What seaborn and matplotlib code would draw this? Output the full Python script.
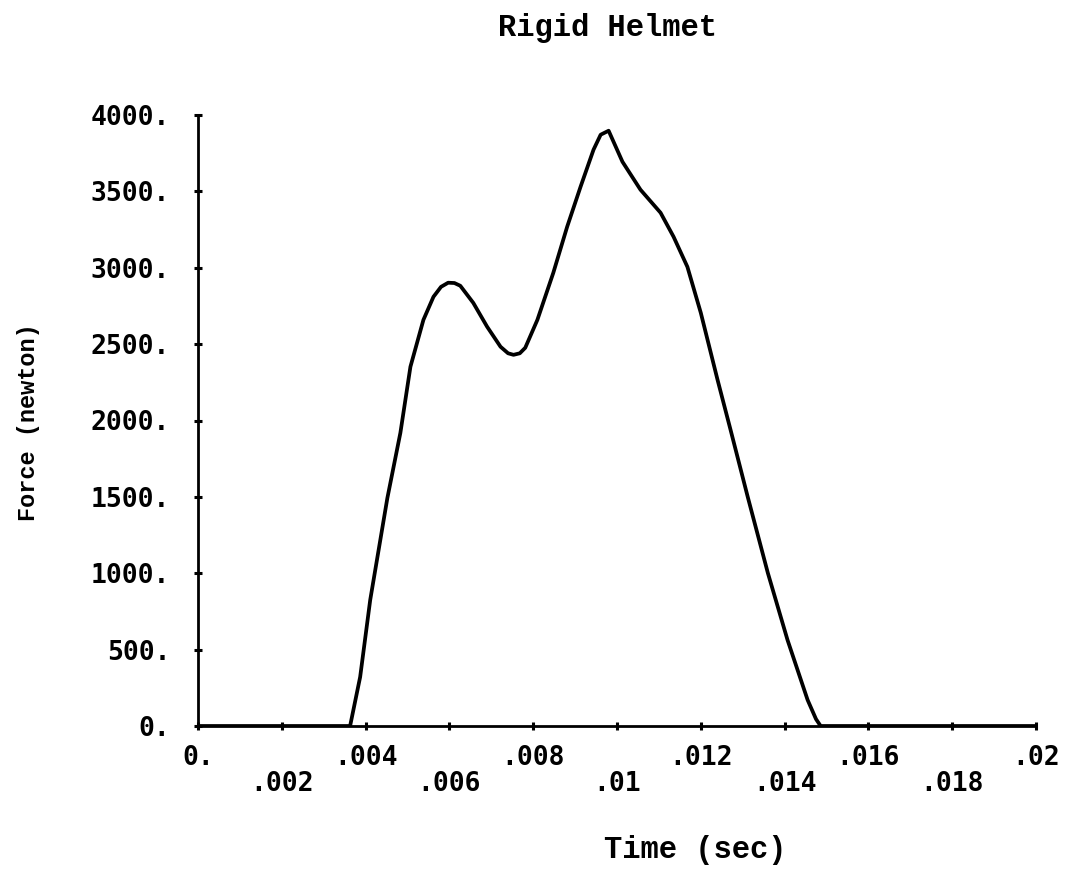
import matplotlib
matplotlib.use("Agg")
import matplotlib.pyplot as plt
import seaborn as sns
import pandas as pd

# Impact force history for the rigid helmet
time_s = [0.0, 0.00363, 0.00387, 0.00411, 0.00452, 0.00483, 0.00507, 0.00538,
          0.00562, 0.00580, 0.00597, 0.00612, 0.00626, 0.00657, 0.00690, 0.00722,
          0.00740, 0.00753, 0.00768, 0.00781, 0.00810, 0.00848, 0.00881, 0.00913,
          0.00944, 0.00961, 0.00980, 0.01013, 0.01056, 0.01104, 0.01135, 0.01168,
          0.01200, 0.01240, 0.01271, 0.01312, 0.01360, 0.01407, 0.01455, 0.01475,
          0.01486, 0.02]
force_n = [0, 0, 321, 825, 1493, 1919, 2352, 2659,
           2810, 2875, 2902, 2900, 2882, 2770, 2614, 2483,
           2440, 2430, 2440, 2476, 2659, 2967, 3268, 3530,
           3773, 3871, 3897, 3694, 3511, 3360, 3203, 3006,
           2705, 2266, 1939, 1500, 1002, 563, 170, 45,
           0, 0]

x_ticks = [0.0, 0.002, 0.004, 0.006, 0.008, 0.010, 0.012, 0.014, 0.016, 0.018, 0.020]
x_tick_labels = ["0.", ".002", ".004", ".006", ".008", ".01", ".012", ".014", ".016", ".018", ".02"]
y_ticks = [0, 500, 1000, 1500, 2000, 2500, 3000, 3500, 4000]
y_tick_labels = ["0.", "500.", "1000.", "1500.", "2000.", "2500.", "3000.", "3500.", "4000."]

df = pd.DataFrame({"time": time_s, "force": force_n})

sns.set_theme(style="white")
plt.rcParams["font.family"] = ["DejaVu Sans Mono", "DejaVu Sans"]
plt.rcParams["text.color"] = "black"

W, H = 1074, 875
fig = plt.figure(figsize=(W / 100, H / 100), dpi=100)
ax = fig.add_axes([198 / W, 1 - 726 / H, (1036 - 198) / W, (726 - 115) / H])

sns.lineplot(data=df, x="time", y="force", ax=ax, color="black",
             linewidth=2.7, sort=False, estimator=None)
for line in ax.get_lines():
    line.set_solid_joinstyle("round")
    line.set_solid_capstyle("round")

ax.set_xlim(0, 0.02)
ax.set_ylim(0, 4000)
for side in ("top", "right"):
    ax.spines[side].set_visible(False)
for side in ("left", "bottom"):
    ax.spines[side].set_linewidth(2.0)
    ax.spines[side].set_color("black")

ax.set_xticks(x_ticks)
# alternate the x labels between two rows
ax.set_xticklabels([lab if i % 2 == 0 else "\n" + lab for i, lab in enumerate(x_tick_labels)])
ax.set_yticks(y_ticks)
ax.set_yticklabels(y_tick_labels)
ax.tick_params(axis="both", direction="inout", length=6, width=2.2, color="black",
               labelsize=19, labelcolor="black", bottom=True, left=True)
ax.tick_params(axis="x", pad=11)
ax.tick_params(axis="y", pad=17)
for lab in ax.get_xticklabels() + ax.get_yticklabels():
    lab.set_fontweight("bold")
    lab.set_linespacing(0.98)

ax.set_xlabel("")
ax.set_ylabel("")
label_font = ["Liberation Mono", "DejaVu Sans Mono"]
fig.text(608 / W, 1 - 28 / H, "Rigid Helmet", ha="center", va="center",
         family=label_font, fontweight="bold", fontsize=22, color="black")
fig.text(695 / W, 1 - 850 / H, "Time (sec)", ha="center", va="center",
         family=label_font, fontweight="bold", fontsize=22, color="black")
fig.text(29 / W, 1 - 422 / H, "Force (newton)", ha="center", va="center", rotation=90,
         family=label_font, fontweight="bold", fontsize=17, color="black")

fig.savefig("out.png", dpi=100, facecolor="white")
